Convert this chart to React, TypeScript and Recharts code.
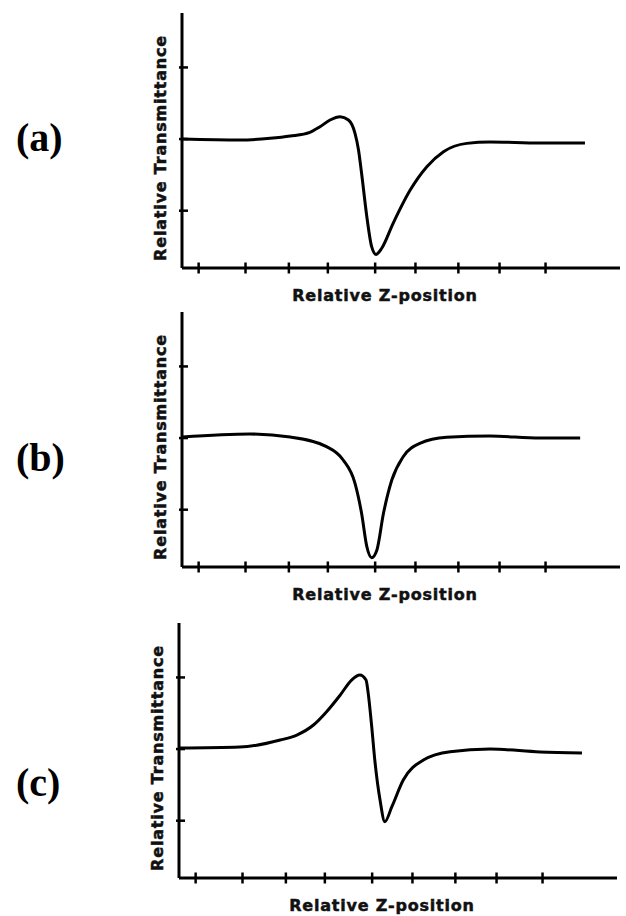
import { LineChart, Line, XAxis, YAxis, Label } from 'recharts'

// z-scan traces: relative z-position vs relative transmittance
const zA = [0, 13.2, 20.1, 24.7, 29.2, 31.5, 33.8, 36.1, 38.0, 39.5, 40.3, 41.0, 42.2, 43.3, 44.3, 45.6, 48.2, 52.1, 55.9, 59.7, 65.0, 70.3, 81.7, 92.0]
const tA = [1.0, 0.993, 1.005, 1.021, 1.047, 1.086, 1.133, 1.156, 1.133, 1.04, 0.924, 0.761, 0.458, 0.249, 0.195, 0.238, 0.412, 0.644, 0.807, 0.912, 0.97, 0.98, 0.973, 0.973]

const zB = [0, 15.5, 24.7, 33.0, 36.8, 39.5, 41.0, 42.2, 43.3, 44.5, 46.0, 47.9, 50.5, 54.3, 60.4, 70.3, 81.7, 90.9]
const tB = [1.007, 1.028, 1.007, 0.94, 0.847, 0.684, 0.475, 0.242, 0.165, 0.219, 0.475, 0.707, 0.87, 0.963, 1.005, 1.014, 1.0, 1.0]

const zC = [0, 13.9, 23.1, 26.9, 30.7, 33.7, 36.8, 39.4, 41.3, 42.7, 43.2, 44.0, 44.7, 45.9, 47.0, 48.6, 51.2, 55.8, 61.9, 71.0, 82.4, 92.0]
const tC = [1.007, 1.014, 1.063, 1.098, 1.168, 1.261, 1.377, 1.482, 1.517, 1.482, 1.389, 1.156, 0.924, 0.644, 0.493, 0.598, 0.784, 0.924, 0.982, 1.0, 0.98, 0.973]

const zTicks = [3.8, 14.5, 24.4, 33.3, 44.1, 53.3, 63.1, 72.5, 83]
const tTicks = [0.5, 1, 1.5]

const toRows = (z: number[], t: number[]) => z.map((v, i) => ({ z: v, t: t[i] }))

const titleFont = {
  fontFamily: '"DejaVu Sans", sans-serif',
  fontWeight: 700,
  fontSize: 16,
  letterSpacing: 0.8,
  fill: '#111',
  stroke: '#111',
  strokeWidth: 0.5,
}

const XTick = ({ x, y }: any) => (
  <line x1={x} x2={x} y1={y - 5.5} y2={y + 5.5} stroke="#000" strokeWidth={2.5} />
)

const YTick = ({ x, y }: any) => (
  <line x1={x - 3} x2={x + 6} y1={y} y2={y} stroke="#000" strokeWidth={2.5} />
)

const XTitle = ({ viewBox }: any) => (
  <text x={viewBox.x + 203} y={viewBox.y + 33} textAnchor="middle" style={titleFont}>
    Relative Z-position
  </text>
)

const YTitle = ({ viewBox }: any) => {
  const bx = viewBox.x + viewBox.width - 16
  const cy = viewBox.y + viewBox.height / 2 + 7.5
  return (
    <text x={bx} y={cy} textAnchor="middle" transform={`rotate(-90, ${bx}, ${cy})`} style={titleFont}>
      Relative Transmittance
    </text>
  )
}

const Y_AXIS_W = 60

function Panel({ top, axisX, tag, tagTop, rows }: { top: number; axisX: number; tag: string; tagTop: number; rows: { z: number; t: number }[] }) {
  return (
    <>
      <div
        style={{
          position: 'absolute',
          left: 16,
          top: tagTop,
          fontFamily: '"Liberation Serif", "Times New Roman", serif',
          fontWeight: 700,
          fontSize: 40,
          lineHeight: '40px',
          color: '#000',
        }}
      >
        {tag}
      </div>
      <div style={{ position: 'absolute', left: 0, top }}>
        <LineChart
          width={626}
          height={306}
          data={rows}
          margin={{ top: 13, right: 626 - (axisX + 438), bottom: 0, left: axisX - Y_AXIS_W }}
        >
          <XAxis
            dataKey="z"
            type="number"
            domain={[0, 100]}
            ticks={zTicks}
            height={38}
            tickSize={0}
            tickMargin={0}
            tickLine={false}
            tick={<XTick />}
            axisLine={{ stroke: '#000', strokeWidth: 3 }}
            allowDataOverflow
          >
            <Label content={<XTitle />} />
          </XAxis>
          <YAxis
            dataKey="t"
            type="number"
            domain={[0.1, 1.88]}
            ticks={tTicks}
            width={Y_AXIS_W}
            tickSize={0}
            tickMargin={0}
            tickLine={false}
            tick={<YTick />}
            axisLine={{ stroke: '#000', strokeWidth: 3 }}
            allowDataOverflow
          >
            <Label content={<YTitle />} />
          </YAxis>
          <Line
            type="monotone"
            dataKey="t"
            stroke="#000"
            strokeWidth={3}
            dot={false}
            isAnimationActive={false}
          />
        </LineChart>
      </div>
    </>
  )
}

export default function App() {
  return (
    <div style={{ position: 'absolute', left: 0, top: 0, width: 626, height: 916, background: '#fff', overflow: 'hidden' }}>
      <Panel top={0} axisX={182} tag="(a)" tagTop={118} rows={toRows(zA, tA)} />
      <Panel top={299} axisX={182} tag="(b)" tagTop={438} rows={toRows(zB, tB)} />
      <Panel top={610} axisX={179} tag="(c)" tagTop={763} rows={toRows(zC, tC)} />
    </div>
  )
}
